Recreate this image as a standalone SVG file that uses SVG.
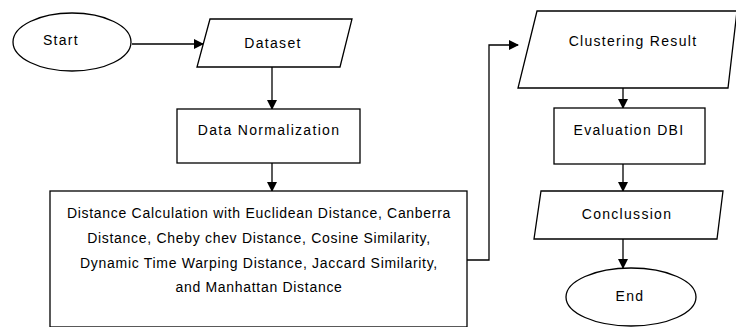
<svg xmlns="http://www.w3.org/2000/svg" width="736" height="327" viewBox="0 0 736 327">
<defs>
<marker id="arr" markerWidth="10" markerHeight="10" refX="9" refY="5" orient="auto" markerUnits="userSpaceOnUse">
<path d="M0,0 L10,5 L0,10 Z" fill="#000"/>
</marker>
<style>
.s{fill:#fff;stroke:#000;stroke-width:1.3}
.t{font-family:"Liberation Sans",Arial,sans-serif;font-size:14px;fill:#000;text-anchor:middle;dominant-baseline:central;letter-spacing:0.7px}
.w{letter-spacing:1.3px}
.c{fill:none;stroke:#000;stroke-width:1.3;marker-end:url(#arr)}
</style>
</defs>
<rect width="736" height="327" fill="#fff"/>
<g id="connectors">
<line class="c" x1="132" y1="44" x2="203" y2="44"/>
<line class="c" x1="272" y1="67" x2="272" y2="109"/>
<line class="c" x1="272" y1="163" x2="272" y2="191"/>
<polyline class="c" points="467,260 489,260 489,45 518,45"/>
<line class="c" x1="623" y1="88" x2="623" y2="108"/>
<line class="c" x1="623" y1="164" x2="623" y2="191"/>
<line class="c" x1="623" y1="239" x2="623" y2="268"/>
</g>
<g id="start">
<ellipse class="s" cx="72" cy="42" rx="59" ry="29"/>
<text class="t w" x="61" y="40">Start</text>
</g>
<g id="dataset">
<polygon class="s" points="210,19 352,19 340,67 197,67"/>
<text class="t w" x="273" y="43">Dataset</text>
</g>
<g id="normalization">
<rect class="s" x="177" y="109" width="183" height="54"/>
<text class="t w" x="269" y="130">Data Normalization</text>
</g>
<g id="distance">
<rect class="s" x="50" y="191" width="417" height="136"/>
<text class="t" x="259" y="213">Distance Calculation with Euclidean Distance, Canberra</text>
<text class="t" x="259" y="238">Distance, Cheby chev Distance, Cosine Similarity,</text>
<text class="t" x="259" y="263">Dynamic Time Warping Distance, Jaccard Similarity,</text>
<text class="t" x="259" y="287">and Manhattan Distance</text>
</g>
<g id="clustering">
<polygon class="s" points="537,11 737,11 728,88 518,88"/>
<text class="t w" x="633" y="41">Clustering Result</text>
</g>
<g id="evaluation">
<rect class="s" x="554" y="108" width="151" height="56"/>
<text class="t w" x="629" y="130">Evaluation DBI</text>
</g>
<g id="conclussion">
<polygon class="s" points="541,191 723,191 717,239 534,239"/>
<text class="t w" x="627" y="214">Conclussion</text>
</g>
<g id="end">
<ellipse class="s" cx="631" cy="297" rx="65" ry="29"/>
<text class="t w" x="630" y="296">End</text>
</g>
</svg>
